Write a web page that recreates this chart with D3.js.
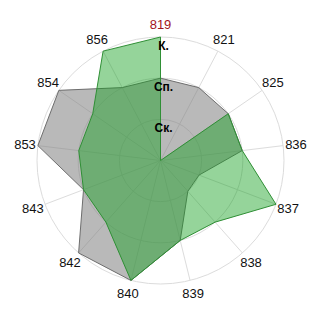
<!DOCTYPE html>
<html>
<head>
<meta charset="utf-8">
<script src="https://cdn.jsdelivr.net/npm/d3@7"></script>
<style>
  body { margin: 0; background: #fff; }
  svg { display: block; }
  .cat { font-family: "Liberation Sans", Arial, sans-serif; font-size: 13px; fill: #111; }
  .lvl { font-family: "Liberation Sans", Arial, sans-serif; font-size: 12px; font-weight: bold; fill: #000; }
</style>
</head>
<body>
<div id="chart"></div>
<script>
// categories clockwise from the top
var categories = ["819", "821", "825", "836", "837", "838", "839", "840", "842", "843", "853", "854", "856"];
var levelLabels = ["Ск.", "Сп.", "К."];
var levelValues = [1, 2, 3];
var greyValues  = [2, 2, 2, 2, 1, 1, 2, 3, 3, 2, 3, 3, 2];
var greenValues = [3, 0, 2, 2, 3, 2, 2, 3, 2, 2, 2, 2, 3];

var w = 320, h = 320;
var cx = 160.5, cy = 160.5, R = 123.5;

var svg = d3.select("#chart")
            .append("svg")
            .attr("width", w)
            .attr("height", h)
            .append("g")
            .attr("transform", "translate(" + cx + "," + cy + ")");

/***Scales***/
var rScale = d3.scaleLinear()
               .domain([0, 3])
               .range([0, R]);
var aScale = d3.scaleLinear()
               .domain([0, categories.length])
               .range([0, 2 * Math.PI]);

function px(i, r) { return r * Math.sin(aScale(i)); }
function py(i, r) { return -r * Math.cos(aScale(i)); }

/***Grid circles***/
svg.selectAll(".ring")
   .data(levelValues)
   .enter()
   .append("circle")
   .attr("class", "ring")
   .attr("r", function(d) { return rScale(d); })
   .attr("fill", "none")
   .attr("stroke", "#dcdcdc")
   .attr("stroke-width", 1);

/***Spokes***/
svg.selectAll(".spoke")
   .data(categories)
   .enter()
   .append("line")
   .attr("class", "spoke")
   .attr("x1", 0).attr("y1", 0)
   .attr("x2", function(d, i) { return px(i, rScale(3)); })
   .attr("y2", function(d, i) { return py(i, rScale(3)); })
   .attr("stroke", "#dcdcdc")
   .attr("stroke-width", 1);

/***Series polygons***/
var radar = d3.lineRadial()
              .curve(d3.curveLinearClosed)
              .angle(function(d, i) { return aScale(i); })
              .radius(function(d) { return rScale(d); });

svg.append("path")
   .datum(greyValues)
   .attr("d", radar)
   .attr("fill", "rgba(128,128,128,0.55)")
   .attr("stroke", "#6e6e6e")
   .attr("stroke-width", 1);

svg.append("path")
   .datum(greenValues)
   .attr("d", radar)
   .attr("fill", "rgba(20,160,30,0.45)")
   .attr("stroke", "#2f8f35")
   .attr("stroke-width", 1);

/***Category labels***/
svg.selectAll(".cat")
   .data(categories)
   .enter()
   .append("text")
   .attr("class", "cat")
   .attr("x", function(d, i) { return px(i, R + 13); })
   .attr("y", function(d, i) { return py(i, R + 13); })
   .attr("text-anchor", "middle")
   .attr("dominant-baseline", "central")
   .style("fill", function(d, i) { return i === 0 ? "#a3141c" : null; })
   .text(function(d) { return d; });

/***Level labels***/
svg.selectAll(".lvl")
   .data(levelValues)
   .enter()
   .append("text")
   .attr("class", "lvl")
   .attr("x", 3)
   .attr("y", function(d) { return -rScale(d) + 13; })
   .attr("text-anchor", "middle")
   .text(function(d, i) { return levelLabels[i]; });
</script>
</body>
</html>
